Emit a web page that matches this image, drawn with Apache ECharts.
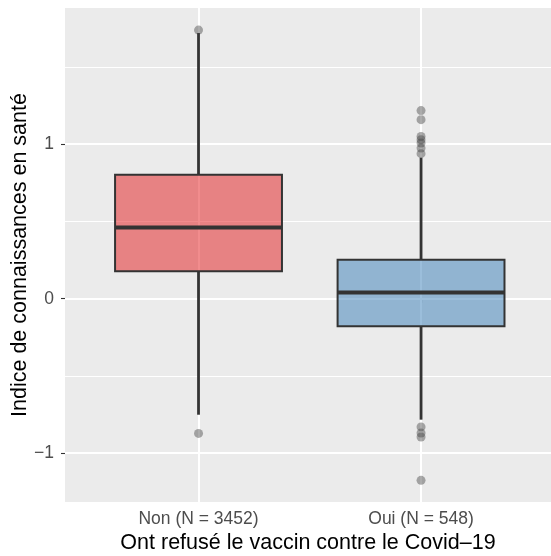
<!DOCTYPE html>
<html>
<head>
<meta charset="utf-8">
<script src="https://cdn.jsdelivr.net/npm/echarts@6/dist/echarts.min.js"></script>
<style>
  html, body { margin: 0; padding: 0; background: #fff; }
  #chart { width: 551px; height: 556px; }
</style>
</head>
<body>
<div id="chart"></div>
<script>
// Catégories et statistiques des boîtes
const categories = ['Non (N = 3452)', 'Oui (N = 548)']
const whiskerLow = [-0.751, -0.783]
const q1 = [0.177, -0.179]
const median = [0.461, 0.041]
const q3 = [0.803, 0.252]
const whiskerHigh = [1.72, 0.913]
// valeurs extrêmes
const outliersNon = [1.739, -0.872]
const outliersOui = [1.218, 1.159, 1.05, 1.029, 1.008, 0.975, 0.939, -0.83, -0.869, -0.895, -1.176]
// graduations
const yTicks = [-1, 0, 1]
const yMinor = [-0.5, 0.5, 1.5]
const xTicks = [1, 2]

const fills = ['rgba(228, 26, 28, 0.5)', 'rgba(55, 126, 184, 0.5)']
const boxHalf = 0.375

const boxData = categories.map((c, i) => [i + 1, whiskerLow[i], q1[i], median[i], q3[i], whiskerHigh[i]])
const outlierData = [
  ...outliersNon.map(v => [1, v]),
  ...outliersOui.map(v => [2, v])
]

// lignes de grille blanches (majeures et mineures)
const gridLines = [
  ...yTicks.map(v => ({ yAxis: v, lineStyle: { width: 2 } })),
  ...yMinor.map(v => ({ yAxis: v, lineStyle: { width: 1 } })),
  ...xTicks.map(v => ({ xAxis: v, lineStyle: { width: 2 } }))
]

const chart = echarts.init(document.getElementById('chart'))

/**
 * Dessine une boîte à moustaches façon ggplot
 */
function renderBox(params, api) {
  const x = api.value(0)
  const lo = api.coord([x, api.value(1)])
  const b1 = api.coord([x, api.value(2)])
  const md = api.coord([x, api.value(3)])
  const b3 = api.coord([x, api.value(4)])
  const hi = api.coord([x, api.value(5)])
  const hw = api.size([boxHalf, 0])[0]
  const dark = '#333333'
  return {
    type: 'group',
    children: [
      { type: 'line', shape: { x1: hi[0], y1: hi[1], x2: b3[0], y2: b3[1] }, style: { stroke: dark, lineWidth: 2.8 } },
      { type: 'line', shape: { x1: b1[0], y1: b1[1], x2: lo[0], y2: lo[1] }, style: { stroke: dark, lineWidth: 2.8 } },
      {
        type: 'rect',
        shape: { x: b3[0] - hw, y: b3[1], width: hw * 2, height: b1[1] - b3[1] },
        style: { fill: fills[params.dataIndex], stroke: dark, lineWidth: 2 }
      },
      { type: 'line', shape: { x1: md[0] - hw, y1: md[1], x2: md[0] + hw, y2: md[1] }, style: { stroke: dark, lineWidth: 4 } }
    ]
  }
}

const option = {
  animation: false,
  textStyle: { fontFamily: 'Liberation Sans, Arial, sans-serif' },
  grid: {
    left: 65, right: 0, top: 8, bottom: 54,
    outerBoundsMode: 'none',
    containLabel: false,
    show: true, backgroundColor: '#EBEBEB', borderWidth: 0
  },
  xAxis: {
    type: 'value',
    min: 0.4,
    max: 2.584,
    name: 'Ont refusé le vaccin contre le Covid\u201319',
    nameLocation: 'middle',
    nameGap: 30,
    nameMoveOverlap: false,
    nameTextStyle: { color: '#000', fontSize: 21.5 },
    axisLine: { show: false },
    splitLine: { show: false },
    axisTick: { show: true, customValues: xTicks, length: 4, lineStyle: { color: '#333', width: 1.1 } },
    axisLabel: {
      customValues: xTicks,
      margin: 8,
      color: '#4D4D4D',
      fontSize: 17.5,
      formatter: v => categories[Math.round(v) - 1]
    }
  },
  yAxis: {
    type: 'value',
    min: -1.316,
    max: 1.882,
    name: 'Indice de connaissances en santé',
    nameLocation: 'middle',
    nameGap: 34,
    nameMoveOverlap: false,
    nameTextStyle: { color: '#000', fontSize: 21.5 },
    axisLine: { show: false },
    splitLine: { show: false },
    axisTick: { show: true, customValues: yTicks, length: 4, lineStyle: { color: '#333', width: 1.1 } },
    axisLabel: {
      customValues: yTicks,
      margin: 11,
      color: '#4D4D4D',
      fontSize: 17.5,
      formatter: v => (v < 0 ? '\u2212' + Math.abs(v) : String(v))
    }
  },
  series: [
    {
      type: 'line',
      data: [],
      silent: true,
      z: 1,
      markLine: {
        silent: true,
        z: 1,
        symbol: 'none',
        label: { show: false },
        lineStyle: { color: '#FFFFFF', type: 'solid' },
        data: gridLines
      }
    },
    {
      type: 'custom',
      z: 2,
      renderItem: renderBox,
      encode: { x: 0, y: [1, 2, 3, 4, 5] },
      data: boxData
    },
    {
      type: 'scatter',
      z: 3,
      symbolSize: 9,
      itemStyle: { color: 'rgba(66, 66, 66, 0.55)' },
      data: outlierData
    }
  ]
}

chart.setOption(option)
</script>
</body>
</html>
